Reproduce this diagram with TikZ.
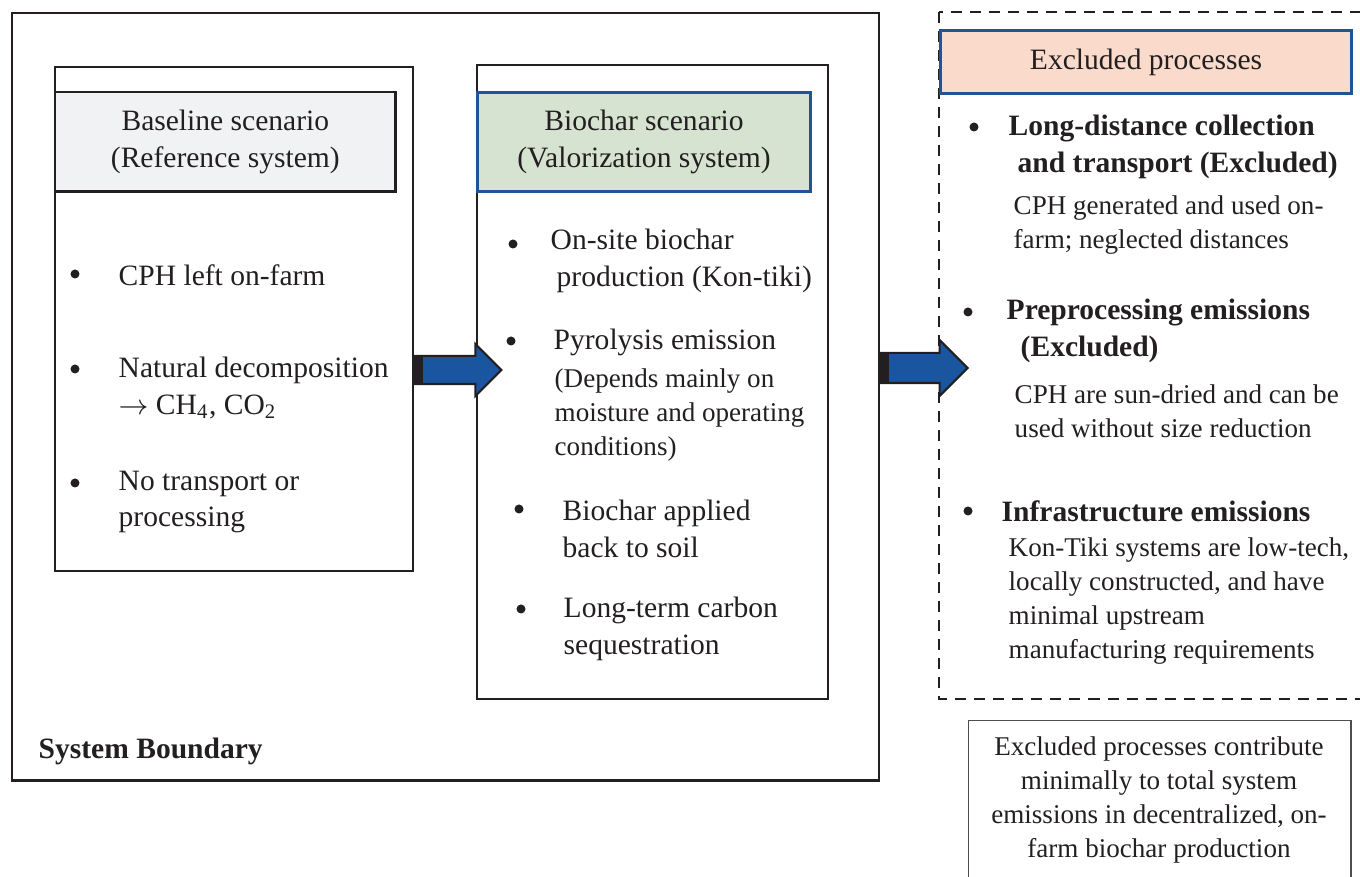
\documentclass[tikz,border=0pt]{standalone}
\usepackage{fontspec}
\setmainfont{Liberation Serif}
\usetikzlibrary{shapes,arrows,shapes.arrows,positioning,calc}

\definecolor{inkgray}{HTML}{231F20}
\definecolor{hdrblue}{HTML}{1F5597}
\definecolor{arrowblue}{HTML}{1A55A0}
\definecolor{basefill}{HTML}{F1F2F4}
\definecolor{biofill}{HTML}{D6E3D0}
\definecolor{exclfill}{HTML}{FADBCB}

\newcommand{\bodyfont}{\fontsize{8.4}{10.5}\selectfont}
\newcommand{\notefont}{\fontsize{7.7}{9.7}\selectfont}

\begin{document}
\begin{tikzpicture}[x=0.01cm, y=-0.01cm, color=inkgray]
    \tikzset{
        box/.style = {rectangle, draw=inkgray, line width=0.6pt, anchor=north west, inner sep=0},
        header/.style = {rectangle, draw=inkgray, line width=0.7pt, anchor=north west, inner sep=0, align=center, font=\bodyfont},
        bluehdr/.style = {header, draw=hdrblue, line width=0.8pt},
        dot/.style = {circle, fill=inkgray, inner sep=0, minimum size=0.09cm},
        item/.style = {anchor=west, align=left, inner sep=0, font=\bodyfont},
        bolditem/.style = {item, font=\bodyfont\bfseries},
        subitem/.style = {item, font=\notefont},
        blockarrow/.style = {single arrow, draw=inkgray, fill=arrowblue, line width=0.6pt, inner xsep=0, inner ysep=0.13cm, single arrow head extend=0.12cm, anchor=tail}
    }
    \useasboundingbox (0,0) rectangle (1360,877);
    \clip (0,0) rectangle (1360,877);

    % system boundary and the two scenarios
    \node[box, minimum width=8.66cm, minimum height=7.67cm](sysb) at (11,12){};
    \node[bolditem](sysb_lbl) at (38,751){System Boundary};

    \node[box, minimum width=3.58cm, minimum height=5.04cm](base) at (54,66){};
    \node[header, fill=basefill, minimum width=3.40cm, minimum height=0.99cm](base_hdr) at (54,91){Baseline scenario\\(Reference system)};

    \node[box, minimum width=3.51cm, minimum height=6.34cm](bio) at (476,64){};
    \node[bluehdr, fill=biofill, minimum width=3.33cm, minimum height=0.99cm](bio_hdr) at (476,91){Biochar scenario\\(Valorization system)};

    % excluded processes
    \draw[inkgray, line width=0.75pt, dash pattern=on 0.11cm off 0.08cm] (939,12) rectangle (1366,699);
    \node[bluehdr, fill=exclfill, minimum width=4.11cm, minimum height=0.63cm](excl_hdr) at (939,29){Excluded processes};

    \node[box, draw=inkgray!80, line width=0.4pt, minimum width=3.82cm, minimum height=1.70cm](note) at (968,720){};
    \node[align=center, inner sep=0, font=\notefont](note_txt) at (1159,800){Excluded processes contribute\\minimally to total system\\emissions in decentralized, on-\\farm biochar production};

    % baseline items
    \node[dot](bb_1) at (75,274){};
    \node[item](bt_1) at (118,275){CPH left on-farm};
    \node[dot](bb_2) at (75,369){};
    \node[item](bt_2) at (118,388){Natural decomposition\\$\rightarrow$ CH\textsubscript{4}, CO\textsubscript{2}};
    \node[dot](bb_3) at (75,483){};
    \node[item](bt_3) at (118,502){No transport or\\processing};

    % biochar items
    \node[dot](cb_1) at (513,244){};
    \node[item](ct_1) at (550,261){On-site biochar\\\hspace*{0.06cm}production (Kon-tiki)};
    \node[dot](cb_2) at (511,341){};
    \node[item](ct_2) at (553,342){Pyrolysis emission};
    \node[subitem](ct_2s) at (554,415){(Depends mainly on\\moisture and operating\\conditions)};
    \node[dot](cb_3) at (519,509){};
    \node[item](ct_3) at (562,529){Biochar applied\\back to soil};
    \node[dot](cb_4) at (521,609){};
    \node[item](ct_4) at (563,629){Long-term carbon\\sequestration};

    % excluded items
    \node[dot](eb_1) at (974,127){};
    \node[bolditem](et_1) at (1008,147){Long-distance collection\\\hspace*{0.09cm}and transport (Excluded)};
    \node[subitem](es_1) at (1013,225){CPH generated and used on-\\farm; neglected distances};
    \node[dot](eb_2) at (968,312){};
    \node[bolditem](et_2) at (1006,331){Preprocessing emissions\\\hspace*{0.14cm}(Excluded)};
    \node[subitem](es_2) at (1014,411){CPH are sun-dried and can be\\used without size reduction};
    \node[dot](eb_3) at (968,511){};
    \node[bolditem](et_3) at (1001,511){Infrastructure emissions};
    \node[subitem](es_3) at (1008,601){Kon-Tiki systems are low-tech,\\locally constructed, and have\\minimal upstream\\manufacturing requirements};

    % block arrows
    \node[blockarrow, minimum height=0.86cm](arr_1) at (base.east |- 0,370){};
    \fill[inkgray] (arr_1.before tail) rectangle ($(arr_1.after tail)+(9,0)$);
    \node[blockarrow, minimum height=0.87cm, inner ysep=0.14cm, single arrow head extend=0.13cm](arr_2) at (sysb.east |- 0,368){};
    \fill[inkgray] (arr_2.before tail) rectangle ($(arr_2.after tail)+(9,0)$);

\end{tikzpicture}
\end{document}
